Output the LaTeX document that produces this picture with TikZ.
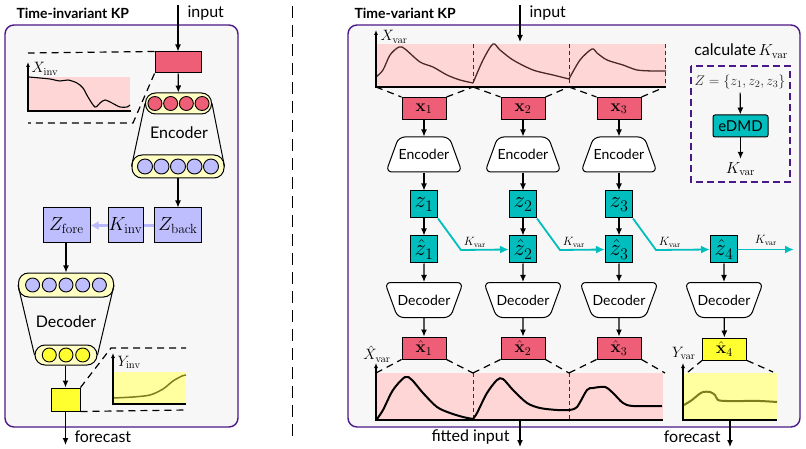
\documentclass[tikz,border=0pt]{standalone}
\usepackage{fix-cm}
\usepackage{amsmath, amssymb}
\usepackage[no-math]{fontspec}
\setmainfont{Lato}
\usepackage{tikz}
\usetikzlibrary{calc, positioning, arrows.meta, shapes.geometric}
\definecolor{kpred}{RGB}{238,94,118}
\definecolor{kpink}{RGB}{255,214,214}
\definecolor{kpill}{RGB}{255,255,196}
\definecolor{kblue}{RGB}{190,190,255}
\definecolor{klight}{RGB}{184,184,250}
\definecolor{kyellow}{RGB}{255,255,48}
\definecolor{kyfill}{RGB}{255,255,160}
\definecolor{kolive}{RGB}{125,125,30}
\definecolor{kteal}{RGB}{0,190,190}
\definecolor{kpurple}{RGB}{75,25,135}
\definecolor{kbrown}{RGB}{75,40,40}
\tikzset{
    panel/.style={draw=kpurple, line width=1.4pt, rounded corners=9pt, fill=black!3},
    paneltitle/.style={anchor=west, font=\bfseries\fontsize{14}{16}\selectfont},
    lbl/.style={font=\fontsize{16}{18}\selectfont},
    arrow/.style={-{Latex[length=7pt, width=6pt]}, line width=1.2pt},
    softarrow/.style={line width=2.6pt, draw=klight},
    tealarrow/.style={-{Latex[length=9pt, width=8pt]}, line width=1.8pt, draw=kteal},
    zoomline/.style={dash pattern=on 7pt off 5pt, line width=1.2pt},
    cutline/.style={dash pattern=on 4pt off 3pt, line width=0.8pt, draw=black!80},
    axisarrow/.style={-{Latex[length=5pt, width=4pt]}, line width=1.2pt},
    xbox/.style={rectangle, draw=black, line width=1pt, fill=kpred, minimum width=44pt, minimum height=22pt, inner sep=0pt, font=\fontsize{17}{18}\selectfont},
    ybox/.style={xbox, fill=kyellow},
    zbox/.style={rectangle, draw=black, line width=1pt, fill=kteal, minimum size=27pt, inner sep=0pt, font=\fontsize{23}{23}\selectfont},
    latent/.style={rectangle, draw=black, line width=1pt, fill=kblue, minimum width=47pt, minimum height=35pt, inner sep=0pt, font=\fontsize{19}{19}\selectfont},
    pill/.style={rectangle, draw=black, line width=1pt, fill=kpill, rounded corners=10pt, inner sep=0pt},
    neuron/.style={circle, draw=black, line width=0.9pt, minimum size=14pt, inner sep=0pt},
    enc/.style={trapezium, trapezium angle=70, trapezium stretches body, draw=black, line width=1pt, fill=white, rounded corners=6pt, text height=10pt, text depth=0pt, inner ysep=12.5pt, inner xsep=0pt, minimum width=73pt, font=\fontsize{14}{16}\selectfont},
    dec/.style={enc, shape border rotate=180}
}
\begin{document}
\begin{tikzpicture}[x=1pt, y=-1pt]
    \useasboundingbox (0,0) rectangle (806,449);

    % Time-invariant KP
    \draw[panel] (5,25) rectangle (238,427);
    \node[paneltitle] at (13,13) {Time-invariant KP};
    \coordinate (ininv) at (178,5);
    \node[lbl, anchor=west] at (184,13) {input};
    \node[xbox, minimum width=46pt, minimum height=21pt] (xinv) at (178,62.5) {};
    \draw[arrow] (ininv) -- (xinv);

    % input window
    \fill[kpink] (28,77) rectangle (130,111);
    \draw[line width=1.1pt] plot[smooth, tension=0.5] coordinates {(29,77) (40,78) (50,79) (60,81) (68,80) (77,83) (83,88) (88,97) (95,107) (100,103) (105,100) (112,103) (120,107) (127,107) (130,105)};
    \draw[line width=1.2pt] (28,111) -- (131,111);
    \draw[axisarrow] (28,112) -- (28,62);
    \node[anchor=west, font=\fontsize{15}{15}\selectfont] at (28,69) {$X_{\mathrm{inv}}$};
    \draw[zoomline] (xinv.north west) -- (28,53);
    \draw[zoomline] (xinv.south west) -- (133,123) -- (28,123);

    % encoder
    \node[pill, minimum width=66pt, minimum height=21pt] (encin) at (178.5,103.5) {};
    \foreach \i in {-1.5,-0.5,0.5,1.5}
        \node[neuron, fill=kpred] at (178.5+\i*15.7,103.5) {};
    \node[pill, minimum width=92pt, minimum height=23pt] (encout) at (178,166.5) {};
    \foreach \i in {-2,...,2}
        \node[neuron, minimum size=15pt, fill=kblue] at (178+\i*16.5,166.5) {};
    \draw[line width=1pt] (encin.west) -- (encout.west) (encin.east) -- (encout.east);
    \node[lbl] at (179,133) {Encoder};
    \draw[arrow] (xinv) -- (encin);

    % Koopman step
    \node[latent] (zback) at (178,225.5) {$Z_{\mathrm{back}}$};
    \node[latent, minimum width=35pt] (kinv) at (125.5,225.5) {$K_{\mathrm{inv}}$};
    \node[latent] (zfore) at (66.5,225.5) {$Z_{\mathrm{fore}}$};
    \draw[arrow] (encout) -- (zback);
    \draw[softarrow] (zback) -- (kinv);
    \draw[softarrow, -{Latex[length=8pt, width=9pt]}] (kinv) -- (zfore);

    % decoder
    \node[pill, minimum width=95pt, minimum height=24pt] (decin) at (66,285) {};
    \foreach \i in {-2,...,2}
        \node[neuron, fill=kblue] at (66+\i*16.7,285) {};
    \node[pill, minimum width=62pt, minimum height=20pt] (decout) at (66,355) {};
    \foreach \i in {-1,0,1}
        \node[neuron, fill=kyellow] at (66+\i*16.7,355) {};
    \draw[line width=1pt] (decin.west) -- (decout.west) (decin.east) -- (decout.east);
    \node[lbl] at (66,322) {Decoder};
    \draw[arrow] (zfore.south -| decin) -- (decin);
    \node[ybox, minimum width=29pt, minimum height=23pt] (yinv) at (65.5,399.5) {};
    \draw[arrow] (decout.south -| yinv) -- (yinv);

    % forecast window
    \fill[kyfill] (113,372) rectangle (186,404);
    \draw[kolive, line width=1.5pt] plot[smooth, tension=0.5] coordinates {(113,398) (133,397) (150,395) (163,389) (173,381) (182,376) (186,375)};
    \draw[line width=1.2pt] (113,404) -- (186,404);
    \draw[axisarrow] (113,405) -- (113,353);
    \node[anchor=west, font=\fontsize{15}{15}\selectfont] at (114,362) {$Y_{\mathrm{inv}}$};
    \draw[zoomline] (yinv.north east) -- (111,348) -- (186,348);
    \draw[zoomline] (yinv.south east) -- (186,410);
    \coordinate (outinv) at (65.5,445);
    \draw[arrow] (yinv) -- (outinv);
    \node[lbl, anchor=west] at (71,437) {forecast};

    % separator
    \draw[dash pattern=on 12pt off 7pt, line width=1pt] (292,6) -- (292,436);

    % Time-variant KP
    \draw[panel] (348,25) rectangle (800,427);
    \node[paneltitle] at (351,13) {Time-variant KP};
    \coordinate (invar) at (520,5);
    \node[lbl, anchor=west] at (526,13) {input};
    \draw[arrow] (invar) -- (520,42);

    % input windows
    \fill[kpink] (376,44) rectangle (666,87);
    \foreach \x in {473,569,665}
        \draw[cutline] (\x,44) -- (\x,87);
    \draw[kbrown, line width=1.3pt] plot[smooth, tension=0.5] coordinates {(376,77) (383,70) (390,55) (399,47) (405,49) (420,62) (433,67) (447,75) (460,80) (473,83)};
    \draw[kbrown, line width=1.3pt] plot[smooth, tension=0.5] coordinates {(473,83) (483,60) (493,44) (500,50) (513,60) (533,70) (553,75) (569,79)};
    \draw[kbrown, line width=1.3pt] plot[smooth, tension=0.5] coordinates {(569,79) (580,60) (592,49) (597,53) (607,60) (623,65) (637,70) (653,71) (666,71)};
    \draw[line width=1.2pt] (376,87) -- (666,87);
    \draw[axisarrow] (376,88) -- (376,30);
    \node[anchor=west, font=\fontsize{15}{15}\selectfont] at (377,37) {$X_{\mathrm{var}}$};

    % fitted windows
    \fill[kpink] (377,373) rectangle (663,420);
    \foreach \x in {473,569}
        \draw[cutline] (\x,373) -- (\x,420);
    \draw[line width=2pt] plot[smooth, tension=0.5] coordinates {(377,419) (383,410) (393,390) (405,377) (412,380) (423,393) (437,407) (450,413) (463,417) (473,419)};
    \draw[line width=2pt] plot[smooth, tension=0.5] coordinates {(473,419) (477,413) (487,393) (497,380) (503,379) (513,390) (527,403) (540,408) (557,410) (569,410)};
    \draw[line width=2pt] plot[smooth, tension=0.5] coordinates {(569,410) (577,407) (587,390) (593,388) (605,387) (613,393) (623,403) (633,406) (662,406)};
    \draw[line width=1.2pt] (376,420) -- (663,420);
    \draw[axisarrow] (376,421) -- (376,363);
    \node[anchor=east, font=\fontsize{15}{15}\selectfont] at (394,354) {$\hat{X}_{\mathrm{var}}$};

    % per-window encoder / decoder
    \foreach \i/\cx/\l/\r in {1/424/376/473, 2/523/473/569, 3/619/569/665} {
        \node[xbox] (x\i) at (\cx,108.5) {$\mathbf{x}_{\i}$};
        \node[enc] (enc\i) at (\cx,154.5) {Encoder};
        \node[zbox] (z\i) at (\cx,204.5) {$z_{\i}$};
        \node[zbox] (zh\i) at (\cx,249.5) {$\hat{z}_{\i}$};
        \node[dec] (dec\i) at (\cx,300) {Decoder};
        \node[xbox] (xh\i) at (\cx,348) {$\hat{\mathbf{x}}_{\i}$};
        \draw[arrow] (x\i) -- (enc\i);
        \draw[arrow] (enc\i) -- (z\i);
        \draw[arrow] (z\i) -- (zh\i);
        \draw[arrow] (zh\i) -- (dec\i);
        \draw[arrow] (dec\i) -- (xh\i);
        \draw[zoomline] (\l,87) -- (x\i.north west) (x\i.north east) -- (\r,87);
        \draw[zoomline] (\l,373) -- (xh\i.south west) (xh\i.south east) -- (\r,373);
    }

    % forecast step
    \node[zbox] (zh4) at (724,249.5) {$\hat{z}_{4}$};
    \node[dec] (dec4) at (724,300) {Decoder};
    \node[ybox] (xh4) at (724.5,349) {$\hat{\mathbf{x}}_{4}$};
    \draw[arrow] (zh4) -- (dec4);
    \draw[arrow] (dec4) -- (xh4);

    % Koopman steps
    \foreach \i/\j in {1/2, 2/3, 3/4}
        \draw[tealarrow] (z\i.south east) -- ++(23,31.5) node[above right, inner sep=2pt, font=\fontsize{12}{12}\selectfont, text=black] {$K_{\mathrm{var}}$} -- (zh\j.west);
    \coordinate (kout) at (794,249.5);
    \draw[tealarrow] (zh4) -- (kout) node[midway, above, inner sep=3pt, font=\fontsize{12}{12}\selectfont, text=black] {$K_{\mathrm{var}}$};

    % forecast window
    \fill[kyfill] (684,373) rectangle (777,420);
    \draw[kolive, line width=2pt] plot[smooth, tension=0.5] coordinates {(684,405) (692,400) (698,395) (703,392) (710,392) (715,395) (718,400) (727,401) (743,401) (760,401) (777,402)};
    \draw[line width=1.2pt] (683,420) -- (777,420);
    \draw[axisarrow] (683,421) -- (683,363);
    \node[anchor=east, font=\fontsize{15}{15}\selectfont] at (699,353) {$Y_{\mathrm{var}}$};
    \draw[zoomline] (688,372) -- (xh4.south west) (xh4.south east) -- (773,372);

    % outputs
    \coordinate (fitout) at (520,447);
    \coordinate (varout) at (730,447);
    \draw[arrow] (520,420) -- (fitout);
    \draw[arrow] (730,420) -- (varout);
    \node[lbl, anchor=east] at (513,437) {fitted input};
    \node[lbl, anchor=east] at (724,437) {forecast};

    % calculate K_var
    \node[lbl] at (741,51) {calculate\,$K_{\mathrm{var}}$};
    \draw[kpurple, dash pattern=on 7pt off 4pt, line width=1.3pt] (691,66) rectangle (790,182);
    \node[font=\fontsize{14}{14}\selectfont, text=black!85] (zset) at (740,82) {$Z=\{z_1,z_2,z_3\}$};
    \node[rectangle, draw=black, line width=1pt, fill=kteal, rounded corners=2pt, minimum width=55pt, minimum height=22pt, font=\fontsize{15}{16}\selectfont] (edmd) at (740.5,126) {eDMD};
    \node[font=\fontsize{16}{16}\selectfont] (kvar) at (740.5,169) {$K_{\mathrm{var}}$};
    \draw[arrow] (zset) -- (edmd);
    \draw[arrow] (edmd) -- (kvar);
\end{tikzpicture}
\end{document}
